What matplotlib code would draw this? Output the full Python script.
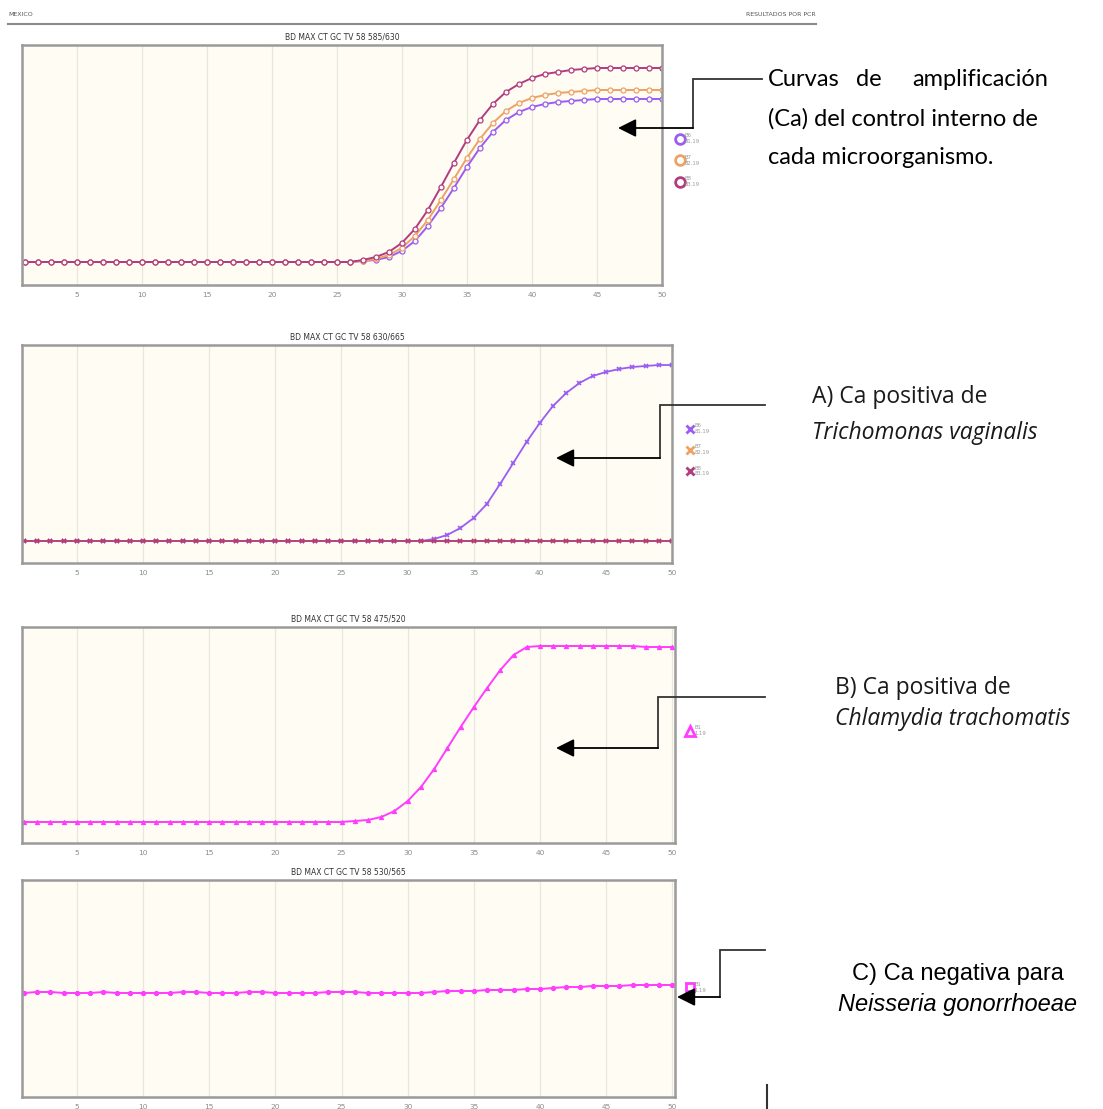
#!/usr/bin/env python
"""BD MAX CT/GC/TV amplification curves with annotations."""

import matplotlib
matplotlib.use('Agg')
import matplotlib.pyplot as plt
from matplotlib.lines import Line2D


# Data
# ----

cycles = list(range(1, 51))
ticks = [5, 10, 15, 20, 25, 30, 35, 40, 45, 50]

# internal control, channel 585/630
ic_b6 = [0, 0, 0, 0, 0, 0, 0, 0, 0, 0,
         0, 0, 0, 0, 0, 0, 0, 0, 0, 0,
         0, 0, 0, 0, 0, 0, 0.01, 0.02, 0.05, 0.11,
         0.21, 0.36, 0.54, 0.74, 0.95, 1.14, 1.30, 1.42, 1.50, 1.55,
         1.58, 1.60, 1.61, 1.62, 1.63, 1.63, 1.63, 1.63, 1.63, 1.63]
ic_b7 = [0, 0, 0, 0, 0, 0, 0, 0, 0, 0,
         0, 0, 0, 0, 0, 0, 0, 0, 0, 0,
         0, 0, 0, 0, 0, 0, 0.01, 0.03, 0.07, 0.14,
         0.26, 0.42, 0.62, 0.83, 1.04, 1.23, 1.39, 1.51, 1.59, 1.64,
         1.67, 1.69, 1.70, 1.71, 1.72, 1.72, 1.72, 1.72, 1.72, 1.72]
ic_b8 = [0, 0, 0, 0, 0, 0, 0, 0, 0, 0,
         0, 0, 0, 0, 0, 0, 0, 0, 0, 0,
         0, 0, 0, 0, 0, 0, 0.02, 0.05, 0.10, 0.19,
         0.33, 0.52, 0.75, 0.99, 1.22, 1.42, 1.58, 1.70, 1.78, 1.84,
         1.88, 1.90, 1.92, 1.93, 1.94, 1.94, 1.94, 1.94, 1.94, 1.94]

# trichomonas, channel 630/665
tv_b6 = [0, 0, 0, 0, 0, 0, 0, 0, 0, 0,
         0, 0, 0, 0, 0, 0, 0, 0, 0, 0,
         0, 0, 0, 0, 0, 0, 0, 0, 0, 0,
         0, 0.02, 0.06, 0.13, 0.23, 0.37, 0.57, 0.78, 0.99, 1.18,
         1.35, 1.48, 1.58, 1.65, 1.69, 1.72, 1.74, 1.75, 1.76, 1.76]
tv_b7 = [0, 0, 0, 0, 0, 0, 0, 0, 0, 0,
         0, 0, 0, 0, 0, 0, 0, 0, 0, 0,
         0, 0, 0, 0, 0, 0, 0, 0, 0, 0,
         0, 0, 0, 0, 0, 0, 0, 0, 0, 0,
         0, 0, 0, 0, 0, 0, 0, 0, 0, 0]
tv_b8 = [0, 0, 0, 0, 0, 0, 0, 0, 0, 0,
         0, 0, 0, 0, 0, 0, 0, 0, 0, 0,
         0, 0, 0, 0, 0, 0, 0, 0, 0, 0,
         0, 0, 0, 0, 0, 0, 0, 0, 0, 0,
         0, 0, 0, 0, 0, 0, 0, 0, 0, 0]

# chlamydia, channel 475/520
ct_b1 = [0, 0, 0, 0, 0, 0, 0, 0, 0, 0,
         0, 0, 0, 0, 0, 0, 0, 0, 0, 0,
         0, 0, 0, 0, 0, 0.01, 0.02, 0.05, 0.11, 0.21,
         0.35, 0.53, 0.74, 0.95, 1.15, 1.34, 1.52, 1.67, 1.75, 1.76,
         1.76, 1.76, 1.76, 1.76, 1.76, 1.76, 1.76, 1.75, 1.75, 1.75]

# gonorrhoeae, channel 530/565
ng_b1 = [0.00, 0.01, 0.01, 0.00, 0.00, 0.00, 0.01, 0.00, 0.00, 0.00,
         0.00, 0.00, 0.01, 0.01, 0.00, 0.00, 0.00, 0.01, 0.01, 0.00,
         0.00, 0.00, 0.00, 0.01, 0.01, 0.01, 0.00, 0.00, 0.00, 0.00,
         0.00, 0.01, 0.02, 0.02, 0.02, 0.03, 0.03, 0.03, 0.04, 0.04,
         0.05, 0.06, 0.06, 0.07, 0.07, 0.07, 0.08, 0.08, 0.08, 0.08]

wells = ['B6\n81.19', 'B7\n82.19', 'B8\n83.19']
well_ct = 'B1\n1.19'
titles = ['BD MAX CT GC TV 58 585/630', 'BD MAX CT GC TV 58 630/665',
          'BD MAX CT GC TV 58 475/520', 'BD MAX CT GC TV 58 530/565']


# Styles
# ------

W, H = 1103, 1109
PURPLE, ORANGE, PLUM, MAGENTA = '#9a5cf2', '#eea264', '#b23c80', '#ff3cff'
BG = '#fffcf3'


def px_axes(fig, x0, y0, x1, y1):
    """Add axes from pixel bounds (top-left origin)."""
    return fig.add_axes([x0/W, 1-y1/H, (x1-x0)/W, (y1-y0)/H])


def style(ax, title, ylim, xlim=(0.8, 50)):
    """Common panel decorations."""
    ax.set_facecolor(BG)
    ax.set_xlim(*xlim)
    ax.set_ylim(*ylim)
    ax.set_xticks(ticks)
    ax.set_yticks([])
    ax.tick_params(axis='x', length=0, pad=5, labelsize=5.3,
                   labelcolor='#8a8a8a')
    ax.grid(axis='x', color='#e9e6dd', lw=0.9)
    ax.set_axisbelow(True)
    for s in ax.spines.values():
        s.set_color('#9a9a9a')
        s.set_linewidth(1.8)
    ax.set_title(title, fontsize=5.5, color='#333333', pad=4)


def legend(ax, handles, labels, x, y, spacing=1.25):
    """Small well legend outside the right spine."""
    leg = ax.legend(handles, labels, loc='upper left', bbox_to_anchor=(x, y),
                    frameon=False, fontsize=3.8, handlelength=1.0,
                    handletextpad=0.4, labelspacing=spacing, borderaxespad=0.2)
    for t in leg.get_texts():
        t.set_color('#9a9a9a')


fig = plt.figure(figsize=(W/100, H/100), dpi=100)

# Panel 1: internal control
ax = px_axes(fig, 22, 45, 662, 285)
style(ax, titles[0], (-0.23, 2.17))
for y, c in zip([ic_b6, ic_b7, ic_b8], [PURPLE, ORANGE, PLUM]):
    ax.plot(cycles, y, color=c, lw=1.4, marker='o', ms=3.6, mfc=BG, mew=0.9)
hs = [Line2D([], [], ls='none', marker='o', ms=7, mfc='none', mew=2, color=c)
      for c in [PURPLE, ORANGE, PLUM]]
legend(ax, hs, wells, 1.019, 0.645, spacing=2.0)

# Panel 2: Trichomonas vaginalis
ax = px_axes(fig, 22, 345, 672, 563)
style(ax, titles[1], (-0.22, 1.96), (0.85, 50))
for y, c in zip([tv_b6, tv_b7, tv_b8], [PURPLE, ORANGE, PLUM]):
    ax.plot(cycles, y, color=c, lw=1.3, marker='x', ms=2.6, mew=1.2)
hs = [Line2D([], [], ls='none', marker='x', ms=5.5, mew=2, color=c)
      for c in [PURPLE, ORANGE, PLUM]]
legend(ax, hs, wells, 1.018, 0.655, spacing=1.95)

# Panel 3: Chlamydia trachomatis
ax = px_axes(fig, 22, 627, 675, 843)
style(ax, titles[2], (-0.21, 1.95), (0.85, 50.2))
ax.plot(cycles, ct_b1, color=MAGENTA, lw=1.4, marker='^', ms=3, mew=0.8)
hs = [Line2D([], [], ls='none', marker='^', ms=7, mfc='none', mew=2,
             color=MAGENTA)]
legend(ax, hs, [well_ct], 1.014, 0.56)

# Panel 4: Neisseria gonorrhoeae
ax = px_axes(fig, 22, 880, 675, 1097)
style(ax, titles[3], (-1.04, 1.13), (0.85, 50.2))
ax.plot(cycles, ng_b1, color=MAGENTA, lw=1.4, marker='o', ms=3, mew=0.8)
hs = [Line2D([], [], ls='none', marker='s', ms=6, mfc='none', mew=2,
             color=MAGENTA)]
legend(ax, hs, [well_ct], 1.014, 0.545)


# Annotations
# -----------

ann = fig.add_axes([0, 0, 1, 1], zorder=10)
ann.set_xlim(0, W)
ann.set_ylim(H, 0)
ann.axis('off')
ann.patch.set_alpha(0)

# page header
ann.text(8, 17, 'MEXICO', fontsize=4.5, color='#555555', va='bottom')
ann.text(816, 17, 'RESULTADOS POR PCR', fontsize=4.5, color='#555555',
         va='bottom', ha='right')
ann.plot([8, 816], [24, 24], color='#8a8a8a', lw=1.5)

# elbow arrows
arrows = [([762, 693, 693], [79, 79, 128], 618),
          ([765, 660, 660], [405, 405, 458], 556),
          ([765, 658, 658], [697, 697, 748], 556),
          ([765, 720, 720], [950, 950, 997], 677)]
for xs, ys, tip in arrows:
    ann.plot(xs, ys, color='#333333', lw=1.3, solid_joinstyle='miter')
    ann.annotate('', xy=(tip, ys[-1]), xytext=(xs[-1], ys[-1]),
                 arrowprops=dict(arrowstyle='-|>,head_length=1.1,head_width=0.55',
                                 color='black', lw=1.3, shrinkA=0, shrinkB=0))
ann.plot([767, 767], [1085, 1109], color='#333333', lw=1.5)

# labels
lato = dict(family='Lato', fontsize=17, color='black', va='center')
ann.text(768, 79, 'Curvas', **lato)
ann.text(856, 79, 'de', **lato)
ann.text(1048, 79, 'amplificación', ha='right', **lato)
ann.text(768, 119, '(Ca) del control interno de', **lato)
ann.text(768, 158, 'cada microorganismo.', **lato)

opens = dict(family='Open Sans', fontsize=16.5, color='#1a1a1a', va='center')
ann.text(812, 397, 'A) Ca positiva de', **opens)
ann.text(812, 433, 'Trichomonas vaginalis', style='italic', **opens)
ann.text(835, 688, 'B) Ca positiva de', **opens)
ann.text(835, 719, 'Chlamydia trachomatis', style='italic', **opens)

arial = dict(family='Liberation Sans', fontsize=17, color='black',
             va='center', ha='center')
ann.text(958, 974, 'C) Ca negativa para', **arial)
ann.text(958, 1005, 'Neisseria gonorrhoeae', style='italic', **arial)

fig.savefig('out.png', dpi=100)
